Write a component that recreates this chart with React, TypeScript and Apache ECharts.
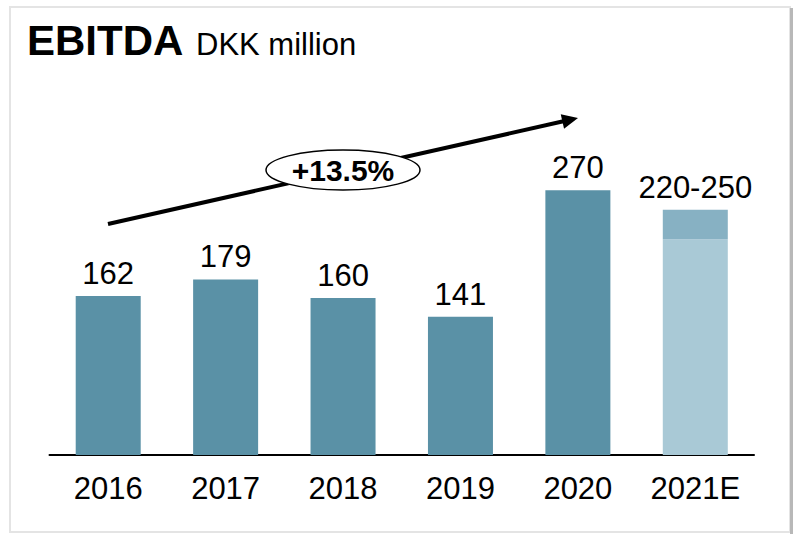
import React, { useEffect, useRef } from "react";
import * as echarts from "echarts";

const categories = ["2016", "2017", "2018", "2019", "2020", "2021E"];
const actualValues: (number | string)[] = [162, 179, 160, 141, 270, "-"];
const forecastBase: (number | string)[] = ["-", "-", "-", "-", "-", 220];
const forecastRange: (number | string)[] = ["-", "-", "-", "-", "-", 30];
const forecastLabel = "220-250";
const growthLabel = "+13.5%";
const titleMain = "EBITDA";
const titleSub = "DKK million";

export default function App() {
  const ref = useRef<HTMLDivElement>(null);
  useEffect(() => {
    if (!ref.current) return;
    const chart = echarts.init(ref.current, undefined, { renderer: "svg" });
    const font = "'Liberation Sans', Arial, sans-serif";
    // arrow geometry
    const x1 = 108, y1 = 224, x2 = 578, y2 = 118;
    const ang = Math.atan2(y2 - y1, x2 - x1);
    const hl = 16, hw = 7.5;
    const bx = x2 - hl * Math.cos(ang), by = y2 - hl * Math.sin(ang);
    const px = -Math.sin(ang), py = Math.cos(ang);
    chart.setOption({
      animation: false,
      backgroundColor: "#ffffff",
      grid: { left: 49.5, right: 41, top: 160.7, bottom: 79, containLabel: false },
      xAxis: {
        type: "category",
        data: categories,
        axisLine: { show: true, lineStyle: { color: "#000", width: 2 } },
        axisTick: { show: false },
        axisLabel: { color: "#000", fontSize: 31, fontFamily: font, margin: 18 },
      },
      yAxis: { type: "value", min: 0, max: 300, show: false, splitLine: { show: false } },
      series: [
        {
          type: "bar",
          stack: "s",
          data: actualValues,
          barWidth: 65,
          itemStyle: { color: "#5A91A6" },
          label: { show: true, position: "top", distance: 7, color: "#000", fontSize: 31, fontFamily: font },
        },
        {
          type: "bar",
          stack: "s",
          data: forecastBase,
          barWidth: 65,
          itemStyle: { color: "#A9C9D6" },
        },
        {
          type: "bar",
          stack: "s",
          data: forecastRange,
          barWidth: 65,
          itemStyle: { color: "#87B1C3" },
          label: {
            show: true,
            position: "top",
            distance: 7,
            color: "#000",
            fontSize: 31,
            fontFamily: font,
            formatter: () => forecastLabel,
          },
        },
      ],
      graphic: [
        {
          type: "rect",
          shape: { x: 10, y: 7, width: 780, height: 525 },
          style: { fill: "none", stroke: "#e4e4e4", lineWidth: 2 },
          z: 0,
        },
        {
          type: "line",
          shape: { x1: 791.5, y1: 8, x2: 791.5, y2: 534 },
          style: { stroke: "#b8b8b8", lineWidth: 3 },
        },
        {
          type: "text",
          x: 27,
          y: 40,
          style: { text: titleMain, fontSize: 42, fontWeight: "bold", fontFamily: font, fill: "#000", verticalAlign: "middle" },
        },
        {
          type: "text",
          x: 196,
          y: 44.5,
          style: { text: titleSub, fontSize: 31, fontFamily: font, fill: "#000", verticalAlign: "middle" },
        },
        {
          type: "line",
          shape: { x1, y1, x2: bx + 1 * Math.cos(ang), y2: by + 1 * Math.sin(ang) },
          style: { stroke: "#000", lineWidth: 4 },
          z: 10,
        },
        {
          type: "polygon",
          shape: { points: [[x2, y2], [bx + px * hw, by + py * hw], [bx - px * hw, by - py * hw]] },
          style: { fill: "#000" },
          z: 10,
        },
        {
          type: "ellipse",
          shape: { cx: 343, cy: 170, rx: 77, ry: 20 },
          style: { fill: "#fff", stroke: "#000", lineWidth: 1.5 },
          z: 11,
        },
        {
          type: "text",
          x: 343,
          y: 170,
          z: 12,
          style: { text: growthLabel, fontSize: 30, fontWeight: "bold", fontFamily: font, fill: "#000", align: "center", verticalAlign: "middle" },
        },
      ],
    });
    return () => chart.dispose();
  }, []);
  return <div ref={ref} style={{ position: "fixed", left: 0, top: 0, width: 795, height: 534 }} />;
}
